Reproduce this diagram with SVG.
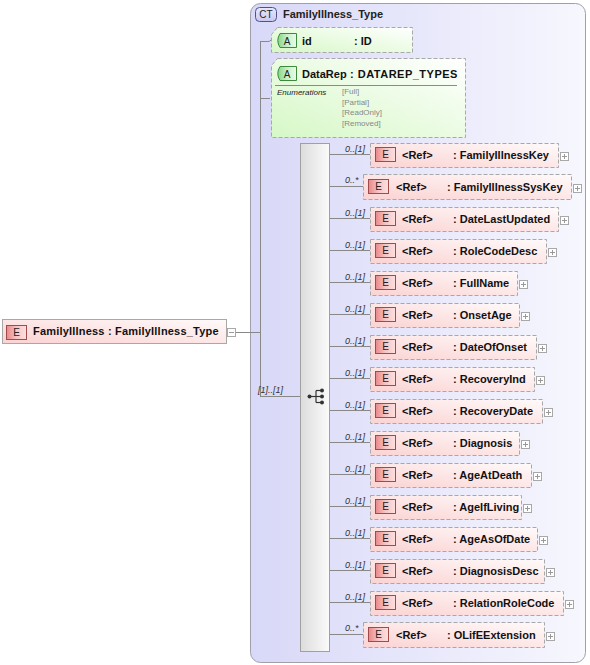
<svg xmlns="http://www.w3.org/2000/svg" width="590" height="665" viewBox="0 0 590 665">
<defs>
<linearGradient id="gCT" x1="0" y1="0" x2="1" y2="0"><stop offset="0" stop-color="#d8d8f8"/><stop offset="1" stop-color="#f7f7fe"/></linearGradient>
<linearGradient id="gEl" x1="0" y1="1" x2="1" y2="0"><stop offset="0" stop-color="#fbd2d2"/><stop offset="1" stop-color="#fffafa"/></linearGradient>
<linearGradient id="gAt" x1="0" y1="1" x2="1" y2="0"><stop offset="0" stop-color="#d6f8c6"/><stop offset="1" stop-color="#ffffff"/></linearGradient>
<linearGradient id="gEB" x1="0" y1="0" x2="1" y2="0"><stop offset="0" stop-color="#e88888"/><stop offset="0.5" stop-color="#f8c4c4"/><stop offset="1" stop-color="#fde0e0"/></linearGradient>
<linearGradient id="gAB" x1="0" y1="0" x2="1" y2="0"><stop offset="0" stop-color="#88d488"/><stop offset="0.5" stop-color="#c8f0c8"/><stop offset="1" stop-color="#e8fce8"/></linearGradient>
<linearGradient id="gCB" x1="0" y1="0" x2="0" y2="1"><stop offset="0" stop-color="#e8e8fc"/><stop offset="1" stop-color="#c8c8f0"/></linearGradient>
<linearGradient id="gSeq" x1="0" y1="0" x2="1" y2="0"><stop offset="0" stop-color="#dcdcdc"/><stop offset="1" stop-color="#fbfbfb"/></linearGradient>
</defs>
<style>
text{font-family:"Liberation Sans",Arial,sans-serif;}
.b{font-weight:bold;font-size:11px;fill:#111;}
.bt{font-weight:bold;font-size:11px;fill:#222;}
.mult{font-style:italic;font-size:9px;fill:#333;}
.enum{font-size:8px;fill:#888;}
.enumh{font-style:italic;font-size:8px;fill:#222;}
.badge{font-size:10px;fill:#222;text-anchor:middle;}
.box{fill:url(#gEl);stroke:#a8a8a8;stroke-width:1;stroke-dasharray:4,2;}
.att{fill:url(#gAt);stroke:#a8a8a8;stroke-width:1;stroke-dasharray:4,2;}
.eb{fill:url(#gEB);stroke:#a04a4a;stroke-width:1;}
.ab{fill:url(#gAB);stroke:#3c8a3c;stroke-width:1;}
.pl{fill:#fff;stroke:#a8a8a8;stroke-width:1;}
.pls{stroke:#999;stroke-width:1;}
.ln{stroke:#888;stroke-width:1;fill:none;}
</style>

<g id="ct-FamilyIllness_Type">
<rect x="250.5" y="3.5" width="335" height="659" rx="10" fill="url(#gCT)" stroke="#a0a0a8"/>
<rect x="255.5" y="7.5" width="21" height="14" rx="4" fill="url(#gCB)" stroke="#50508c"/>
<text class="badge" x="266" y="18">CT</text>
<text class="bt" x="283" y="18">FamilyIllness_Type</text>
</g>

<g id="connectors">
<line class="ln" x1="235" y1="332.5" x2="260" y2="332.5"/>
<line class="ln" x1="260.5" y1="41" x2="260.5" y2="396"/>
<path class="ln" d="M260.5,41.5 H268 Q270,41.5 271,40"/>
<path class="ln" d="M260.5,98.5 H270"/>
<line class="ln" x1="260" y1="396.5" x2="300" y2="396.5"/>
<text class="mult" x="258" y="393">[1]..[1]</text>
<g id="seq-lines">
<line class="ln" x1="330" y1="154.5" x2="370" y2="154.5"/><text class="mult" x="345" y="152">0..[1]</text>
<line class="ln" x1="330" y1="186.5" x2="363" y2="186.5"/><text class="mult" x="345" y="183">0..*</text>
<line class="ln" x1="330" y1="218.5" x2="370" y2="218.5"/><text class="mult" x="345" y="216">0..[1]</text>
<line class="ln" x1="330" y1="250.5" x2="370" y2="250.5"/><text class="mult" x="345" y="248">0..[1]</text>
<line class="ln" x1="330" y1="282.5" x2="370" y2="282.5"/><text class="mult" x="345" y="280">0..[1]</text>
<line class="ln" x1="330" y1="314.5" x2="370" y2="314.5"/><text class="mult" x="345" y="312">0..[1]</text>
<line class="ln" x1="330" y1="346.5" x2="370" y2="346.5"/><text class="mult" x="345" y="344">0..[1]</text>
<line class="ln" x1="330" y1="378.5" x2="370" y2="378.5"/><text class="mult" x="345" y="376">0..[1]</text>
<line class="ln" x1="330" y1="410.5" x2="370" y2="410.5"/><text class="mult" x="345" y="408">0..[1]</text>
<line class="ln" x1="330" y1="442.5" x2="370" y2="442.5"/><text class="mult" x="345" y="440">0..[1]</text>
<line class="ln" x1="330" y1="474.5" x2="370" y2="474.5"/><text class="mult" x="345" y="472">0..[1]</text>
<line class="ln" x1="330" y1="506.5" x2="370" y2="506.5"/><text class="mult" x="345" y="504">0..[1]</text>
<line class="ln" x1="330" y1="538.5" x2="370" y2="538.5"/><text class="mult" x="345" y="536">0..[1]</text>
<line class="ln" x1="330" y1="570.5" x2="370" y2="570.5"/><text class="mult" x="345" y="568">0..[1]</text>
<line class="ln" x1="330" y1="602.5" x2="370" y2="602.5"/><text class="mult" x="345" y="600">0..[1]</text>
<line class="ln" x1="330" y1="634.5" x2="363" y2="634.5"/><text class="mult" x="345" y="631">0..*</text>
</g>
</g>

<g id="root-FamilyIllness">
<rect x="2.5" y="319.5" width="224" height="24" fill="url(#gEl)" stroke="#a8a8a8"/>
<rect x="6.5" y="325.5" width="20" height="14" class="eb"/>
<text class="badge" x="16.5" y="336">E</text>
<text class="b" x="33" y="335" letter-spacing="0.2">FamilyIllness : FamilyIllness_Type</text>
<rect x="227.5" y="328.5" width="8" height="8" class="pl"/>
<line class="pls" x1="229" y1="332.5" x2="234" y2="332.5"/>
</g>

<g id="attr-id">
<path class="att" d="M277.5,27.5 H412.5 V52.5 H271.5 V34.5 Z"/>
<path class="ab" d="M280,33.5 H296.5 V47.5 H280 Q275.5,40.5 280,33.5 Z"/>
<text class="badge" x="287" y="44.5">A</text>
<text class="b" x="302" y="45">id</text>
<text class="b" x="354" y="45">: ID</text>
</g>

<g id="attr-DataRep">
<path class="att" d="M277.5,58.5 H465.5 V137.5 H271.5 V65.5 Z"/>
<path class="ab" d="M280,66.5 H296.5 V80.5 H280 Q275.5,73.5 280,66.5 Z"/>
<text class="badge" x="287" y="77.5">A</text>
<text class="b" x="302" y="78">DataRep</text>
<text class="b" x="350" y="78" letter-spacing="0.5">: DATAREP_TYPES</text>
<line x1="275" y1="85.5" x2="457" y2="85.5" stroke="#8a8a8a"/>
<text class="enumh" x="277" y="95">Enumerations</text>
<text class="enum" x="342" y="94">[Full]</text>
<text class="enum" x="342" y="104.5">[Partial]</text>
<text class="enum" x="342" y="115">[ReadOnly]</text>
<text class="enum" x="342" y="125.5">[Removed]</text>
</g>

<g id="sequence">
<rect x="300.5" y="143.5" width="29" height="508" fill="url(#gSeq)" stroke="#a0a0a0"/>
<g stroke="#333" stroke-width="1.2" fill="#333">
<line x1="309" y1="396.5" x2="316" y2="396.5"/>
<line x1="316" y1="390.5" x2="316" y2="402.5"/>
<line x1="316" y1="390.5" x2="321" y2="390.5"/>
<line x1="316" y1="402.5" x2="321" y2="402.5"/>
<line x1="316" y1="396.5" x2="321" y2="396.5"/>
<circle cx="309.5" cy="396.5" r="2" stroke="none"/>
<circle cx="322" cy="390.5" r="2" stroke="none"/>
<circle cx="322" cy="396.5" r="2" stroke="none"/>
<circle cx="322" cy="402.5" r="2" stroke="none"/>
</g>
</g>

<g id="el-FamilyIllnessKey">
<rect class="box" x="370.5" y="143.5" width="188" height="24"/>
<rect class="eb" x="375.5" y="147.5" width="20" height="14"/><text class="badge" x="385.5" y="158">E</text>
<text class="b" x="402" y="159">&lt;Ref&gt;</text><text class="b" x="453" y="159">: FamilyIllnessKey</text>
<rect class="pl" x="560.5" y="152.5" width="8" height="8"/><path class="pls" d="M562,156.5 H567 M564.5,154 V159"/>
</g>
<g id="el-FamilyIllnessSysKey">
<rect class="box" x="363.5" y="174.5" width="208" height="25"/>
<rect class="eb" x="368.5" y="179.5" width="20" height="14"/><text class="badge" x="378.5" y="190">E</text>
<text class="b" x="396" y="191">&lt;Ref&gt;</text><text class="b" x="447" y="191">: FamilyIllnessSysKey</text>
<rect class="pl" x="573.5" y="184.5" width="8" height="8"/><path class="pls" d="M575,188.5 H580 M577.5,186 V191"/>
</g>
<g id="el-DateLastUpdated">
<rect class="box" x="370.5" y="207.5" width="188" height="24"/>
<rect class="eb" x="375.5" y="211.5" width="20" height="14"/><text class="badge" x="385.5" y="222">E</text>
<text class="b" x="402" y="223">&lt;Ref&gt;</text><text class="b" x="453" y="223">: DateLastUpdated</text>
<rect class="pl" x="560.5" y="216.5" width="8" height="8"/><path class="pls" d="M562,220.5 H567 M564.5,218 V223"/>
</g>
<g id="el-RoleCodeDesc">
<rect class="box" x="370.5" y="239.5" width="176" height="24"/>
<rect class="eb" x="375.5" y="243.5" width="20" height="14"/><text class="badge" x="385.5" y="254">E</text>
<text class="b" x="402" y="255">&lt;Ref&gt;</text><text class="b" x="453" y="255">: RoleCodeDesc</text>
<rect class="pl" x="548.5" y="248.5" width="8" height="8"/><path class="pls" d="M550,252.5 H555 M552.5,250 V255"/>
</g>
<g id="el-FullName">
<rect class="box" x="370.5" y="271.5" width="147" height="24"/>
<rect class="eb" x="375.5" y="275.5" width="20" height="14"/><text class="badge" x="385.5" y="286">E</text>
<text class="b" x="402" y="287">&lt;Ref&gt;</text><text class="b" x="453" y="287">: FullName</text>
<rect class="pl" x="519.5" y="280.5" width="8" height="8"/><path class="pls" d="M521,284.5 H526 M523.5,282 V287"/>
</g>
<g id="el-OnsetAge">
<rect class="box" x="370.5" y="303.5" width="149" height="24"/>
<rect class="eb" x="375.5" y="307.5" width="20" height="14"/><text class="badge" x="385.5" y="318">E</text>
<text class="b" x="402" y="319">&lt;Ref&gt;</text><text class="b" x="453" y="319">: OnsetAge</text>
<rect class="pl" x="521.5" y="312.5" width="8" height="8"/><path class="pls" d="M523,316.5 H528 M525.5,314 V319"/>
</g>
<g id="el-DateOfOnset">
<rect class="box" x="370.5" y="335.5" width="166" height="24"/>
<rect class="eb" x="375.5" y="339.5" width="20" height="14"/><text class="badge" x="385.5" y="350">E</text>
<text class="b" x="402" y="351">&lt;Ref&gt;</text><text class="b" x="453" y="351">: DateOfOnset</text>
<rect class="pl" x="538.5" y="344.5" width="8" height="8"/><path class="pls" d="M540,348.5 H545 M542.5,346 V351"/>
</g>
<g id="el-RecoveryInd">
<rect class="box" x="370.5" y="367.5" width="164" height="24"/>
<rect class="eb" x="375.5" y="371.5" width="20" height="14"/><text class="badge" x="385.5" y="382">E</text>
<text class="b" x="402" y="383">&lt;Ref&gt;</text><text class="b" x="453" y="383">: RecoveryInd</text>
<rect class="pl" x="536.5" y="376.5" width="8" height="8"/><path class="pls" d="M538,380.5 H543 M540.5,378 V383"/>
</g>
<g id="el-RecoveryDate">
<rect class="box" x="370.5" y="399.5" width="172" height="24"/>
<rect class="eb" x="375.5" y="403.5" width="20" height="14"/><text class="badge" x="385.5" y="414">E</text>
<text class="b" x="402" y="415">&lt;Ref&gt;</text><text class="b" x="453" y="415">: RecoveryDate</text>
<rect class="pl" x="544.5" y="408.5" width="8" height="8"/><path class="pls" d="M546,412.5 H551 M548.5,410 V415"/>
</g>
<g id="el-Diagnosis">
<rect class="box" x="370.5" y="431.5" width="149" height="24"/>
<rect class="eb" x="375.5" y="435.5" width="20" height="14"/><text class="badge" x="385.5" y="446">E</text>
<text class="b" x="402" y="447">&lt;Ref&gt;</text><text class="b" x="453" y="447">: Diagnosis</text>
<rect class="pl" x="521.5" y="440.5" width="8" height="8"/><path class="pls" d="M523,444.5 H528 M525.5,442 V447"/>
</g>
<g id="el-AgeAtDeath">
<rect class="box" x="370.5" y="463.5" width="161" height="24"/>
<rect class="eb" x="375.5" y="467.5" width="20" height="14"/><text class="badge" x="385.5" y="478">E</text>
<text class="b" x="402" y="479">&lt;Ref&gt;</text><text class="b" x="453" y="479">: AgeAtDeath</text>
<rect class="pl" x="533.5" y="472.5" width="8" height="8"/><path class="pls" d="M535,476.5 H540 M537.5,474 V479"/>
</g>
<g id="el-AgeIfLiving">
<rect class="box" x="370.5" y="495.5" width="151" height="24"/>
<rect class="eb" x="375.5" y="499.5" width="20" height="14"/><text class="badge" x="385.5" y="510">E</text>
<text class="b" x="402" y="511">&lt;Ref&gt;</text><text class="b" x="453" y="511">: AgeIfLiving</text>
<rect class="pl" x="523.5" y="504.5" width="8" height="8"/><path class="pls" d="M525,508.5 H530 M527.5,506 V511"/>
</g>
<g id="el-AgeAsOfDate">
<rect class="box" x="370.5" y="527.5" width="167" height="24"/>
<rect class="eb" x="375.5" y="531.5" width="20" height="14"/><text class="badge" x="385.5" y="542">E</text>
<text class="b" x="402" y="543">&lt;Ref&gt;</text><text class="b" x="453" y="543">: AgeAsOfDate</text>
<rect class="pl" x="539.5" y="536.5" width="8" height="8"/><path class="pls" d="M541,540.5 H546 M543.5,538 V543"/>
</g>
<g id="el-DiagnosisDesc">
<rect class="box" x="370.5" y="559.5" width="174" height="24"/>
<rect class="eb" x="375.5" y="563.5" width="20" height="14"/><text class="badge" x="385.5" y="574">E</text>
<text class="b" x="402" y="575">&lt;Ref&gt;</text><text class="b" x="453" y="575">: DiagnosisDesc</text>
<rect class="pl" x="546.5" y="568.5" width="8" height="8"/><path class="pls" d="M548,572.5 H553 M550.5,570 V575"/>
</g>
<g id="el-RelationRoleCode">
<rect class="box" x="370.5" y="591.5" width="193" height="24"/>
<rect class="eb" x="375.5" y="595.5" width="20" height="14"/><text class="badge" x="385.5" y="606">E</text>
<text class="b" x="402" y="607">&lt;Ref&gt;</text><text class="b" x="453" y="607">: RelationRoleCode</text>
<rect class="pl" x="565.5" y="600.5" width="8" height="8"/><path class="pls" d="M567,604.5 H572 M569.5,602 V607"/>
</g>
<g id="el-OLifEExtension">
<rect class="box" x="363.5" y="622.5" width="181" height="25"/>
<rect class="eb" x="368.5" y="627.5" width="20" height="14"/><text class="badge" x="378.5" y="638">E</text>
<text class="b" x="396" y="639">&lt;Ref&gt;</text><text class="b" x="447" y="639">: OLifEExtension</text>
<rect class="pl" x="546.5" y="632.5" width="8" height="8"/><path class="pls" d="M548,636.5 H553 M550.5,634 V639"/>
</g>
</svg>
